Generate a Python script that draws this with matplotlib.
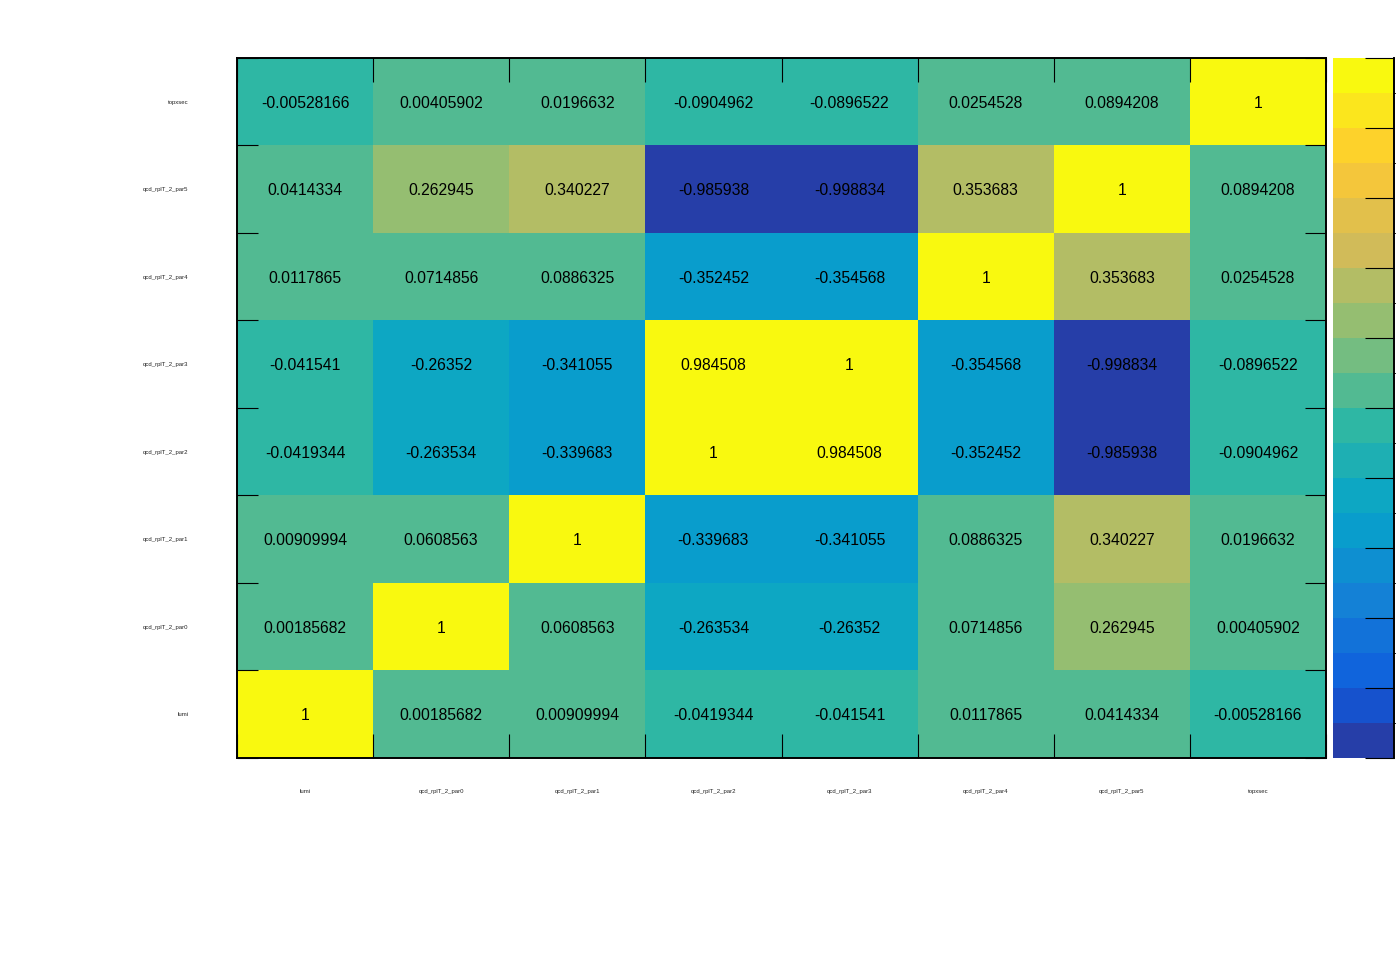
#!/usr/bin/env python3
# correlation matrix of the fit parameters, ROOT COLZ+TEXT look

import numpy as np
import matplotlib
matplotlib.use("Agg")
import matplotlib.pyplot as plt
from matplotlib.colors import ListedColormap, BoundaryNorm

plt.rcParams['font.family'] = ['Liberation Sans', 'DejaVu Sans']

params = ["lumi", "qcd_rplT_2_par0", "qcd_rplT_2_par1", "qcd_rplT_2_par2",
          "qcd_rplT_2_par3", "qcd_rplT_2_par4", "qcd_rplT_2_par5", "topxsec"]

# rows from bottom (lumi) to top (topxsec), columns left to right
corr = [
    [1, 0.00185682, 0.00909994, -0.0419344, -0.041541, 0.0117865, 0.0414334, -0.00528166],
    [0.00185682, 1, 0.0608563, -0.263534, -0.26352, 0.0714856, 0.262945, 0.00405902],
    [0.00909994, 0.0608563, 1, -0.339683, -0.341055, 0.0886325, 0.340227, 0.0196632],
    [-0.0419344, -0.263534, -0.339683, 1, 0.984508, -0.352452, -0.985938, -0.0904962],
    [-0.041541, -0.26352, -0.341055, 0.984508, 1, -0.354568, -0.998834, -0.0896522],
    [0.0117865, 0.0714856, 0.0886325, -0.352452, -0.354568, 1, 0.353683, 0.0254528],
    [0.0414334, 0.262945, 0.340227, -0.985938, -0.998834, 0.353683, 1, 0.0894208],
    [-0.00528166, 0.00405902, 0.0196632, -0.0904962, -0.0896522, 0.0254528, 0.0894208, 1],
]

# ROOT kBird palette
stops = [0.0, 0.125, 0.25, 0.375, 0.5, 0.625, 0.75, 0.875, 1.0]
red = [0.2082, 0.0592, 0.0780, 0.0232, 0.1802, 0.5301, 0.8186, 0.9956, 0.9764]
green = [0.1664, 0.3599, 0.5041, 0.6419, 0.7178, 0.7492, 0.7328, 0.7862, 0.9832]
blue = [0.5293, 0.8684, 0.8385, 0.7914, 0.6425, 0.4662, 0.3499, 0.1968, 0.0539]


def root_gradient(n=255):
    cols = []
    for k in range(1, len(stops)):
        nc = int(np.floor(n * stops[k]) - np.floor(n * stops[k - 1]))
        for c in range(nc):
            f = c / nc
            cols.append((red[k-1] + f * (red[k] - red[k-1]),
                         green[k-1] + f * (green[k] - green[k-1]),
                         blue[k-1] + f * (blue[k] - blue[k-1])))
    return cols


ndiv = 20
grad = root_gradient()
levels = [grad[int((j + 0.99) * len(grad) / ndiv)] for j in range(ndiv)]
cmap = ListedColormap(levels)
norm = BoundaryNorm(np.linspace(-1, 1, ndiv + 1), ndiv)

W, H = 1396, 972
fig = plt.figure(figsize=(W / 100, H / 100), dpi=100)
ax = fig.add_axes([237 / W, 1 - 758 / H, (1326 - 237) / W, 700 / H])

z = np.array(corr)
n = len(params)
mesh = ax.pcolormesh(np.arange(n + 1), np.arange(n + 1), z, cmap=cmap, norm=norm,
                     edgecolors='none', antialiased=False)

for i in range(n):
    for j in range(n):
        # small nudge down: ROOT centres the digits, mpl centres the font box
        ax.text(j + 0.5, i + 0.5 - 0.017, "%g" % z[i, j], ha='center', va='center',
                fontsize=11.3, color='black')

ax.set_xlim(0, n)
ax.set_ylim(0, n)
ax.set_xticks(np.arange(n + 1))
ax.set_yticks(np.arange(n + 1))
ax.set_xticks(np.arange(n) + 0.5, minor=True)
ax.set_yticks(np.arange(n) + 0.5, minor=True)
ax.set_xticklabels(params, minor=True)
ax.set_yticklabels(params, minor=True)
ax.tick_params(which='major', direction='in', top=True, right=True,
               labelbottom=False, labelleft=False, width=0.8, color='black')
ax.tick_params(axis='x', which='major', length=17.3)
ax.tick_params(axis='y', which='major', length=15)
ax.tick_params(axis='x', which='minor', length=0, labelsize=4.3, pad=22,
               labelcolor='#222222')
ax.tick_params(axis='y', which='minor', length=0, labelsize=4.3, pad=35,
               labelcolor='#222222')
for sp in ax.spines.values():
    sp.set_linewidth(1.4)

# palette axis on the right
cax = fig.add_axes([1333 / W, 1 - 758 / H, 61 / W, 700 / H])
cb = fig.colorbar(mesh, cax=cax, ticks=np.linspace(-1, 1, 11))
cb.outline.set_visible(False)
cax.tick_params(direction='in', length=21, width=0.8, labelright=False, right=True)
cax.plot([1, 1], [0, 1], transform=cax.transAxes, color='black', lw=1.4,
         clip_on=False)

fig.savefig("out.png", dpi=100, facecolor='white')
